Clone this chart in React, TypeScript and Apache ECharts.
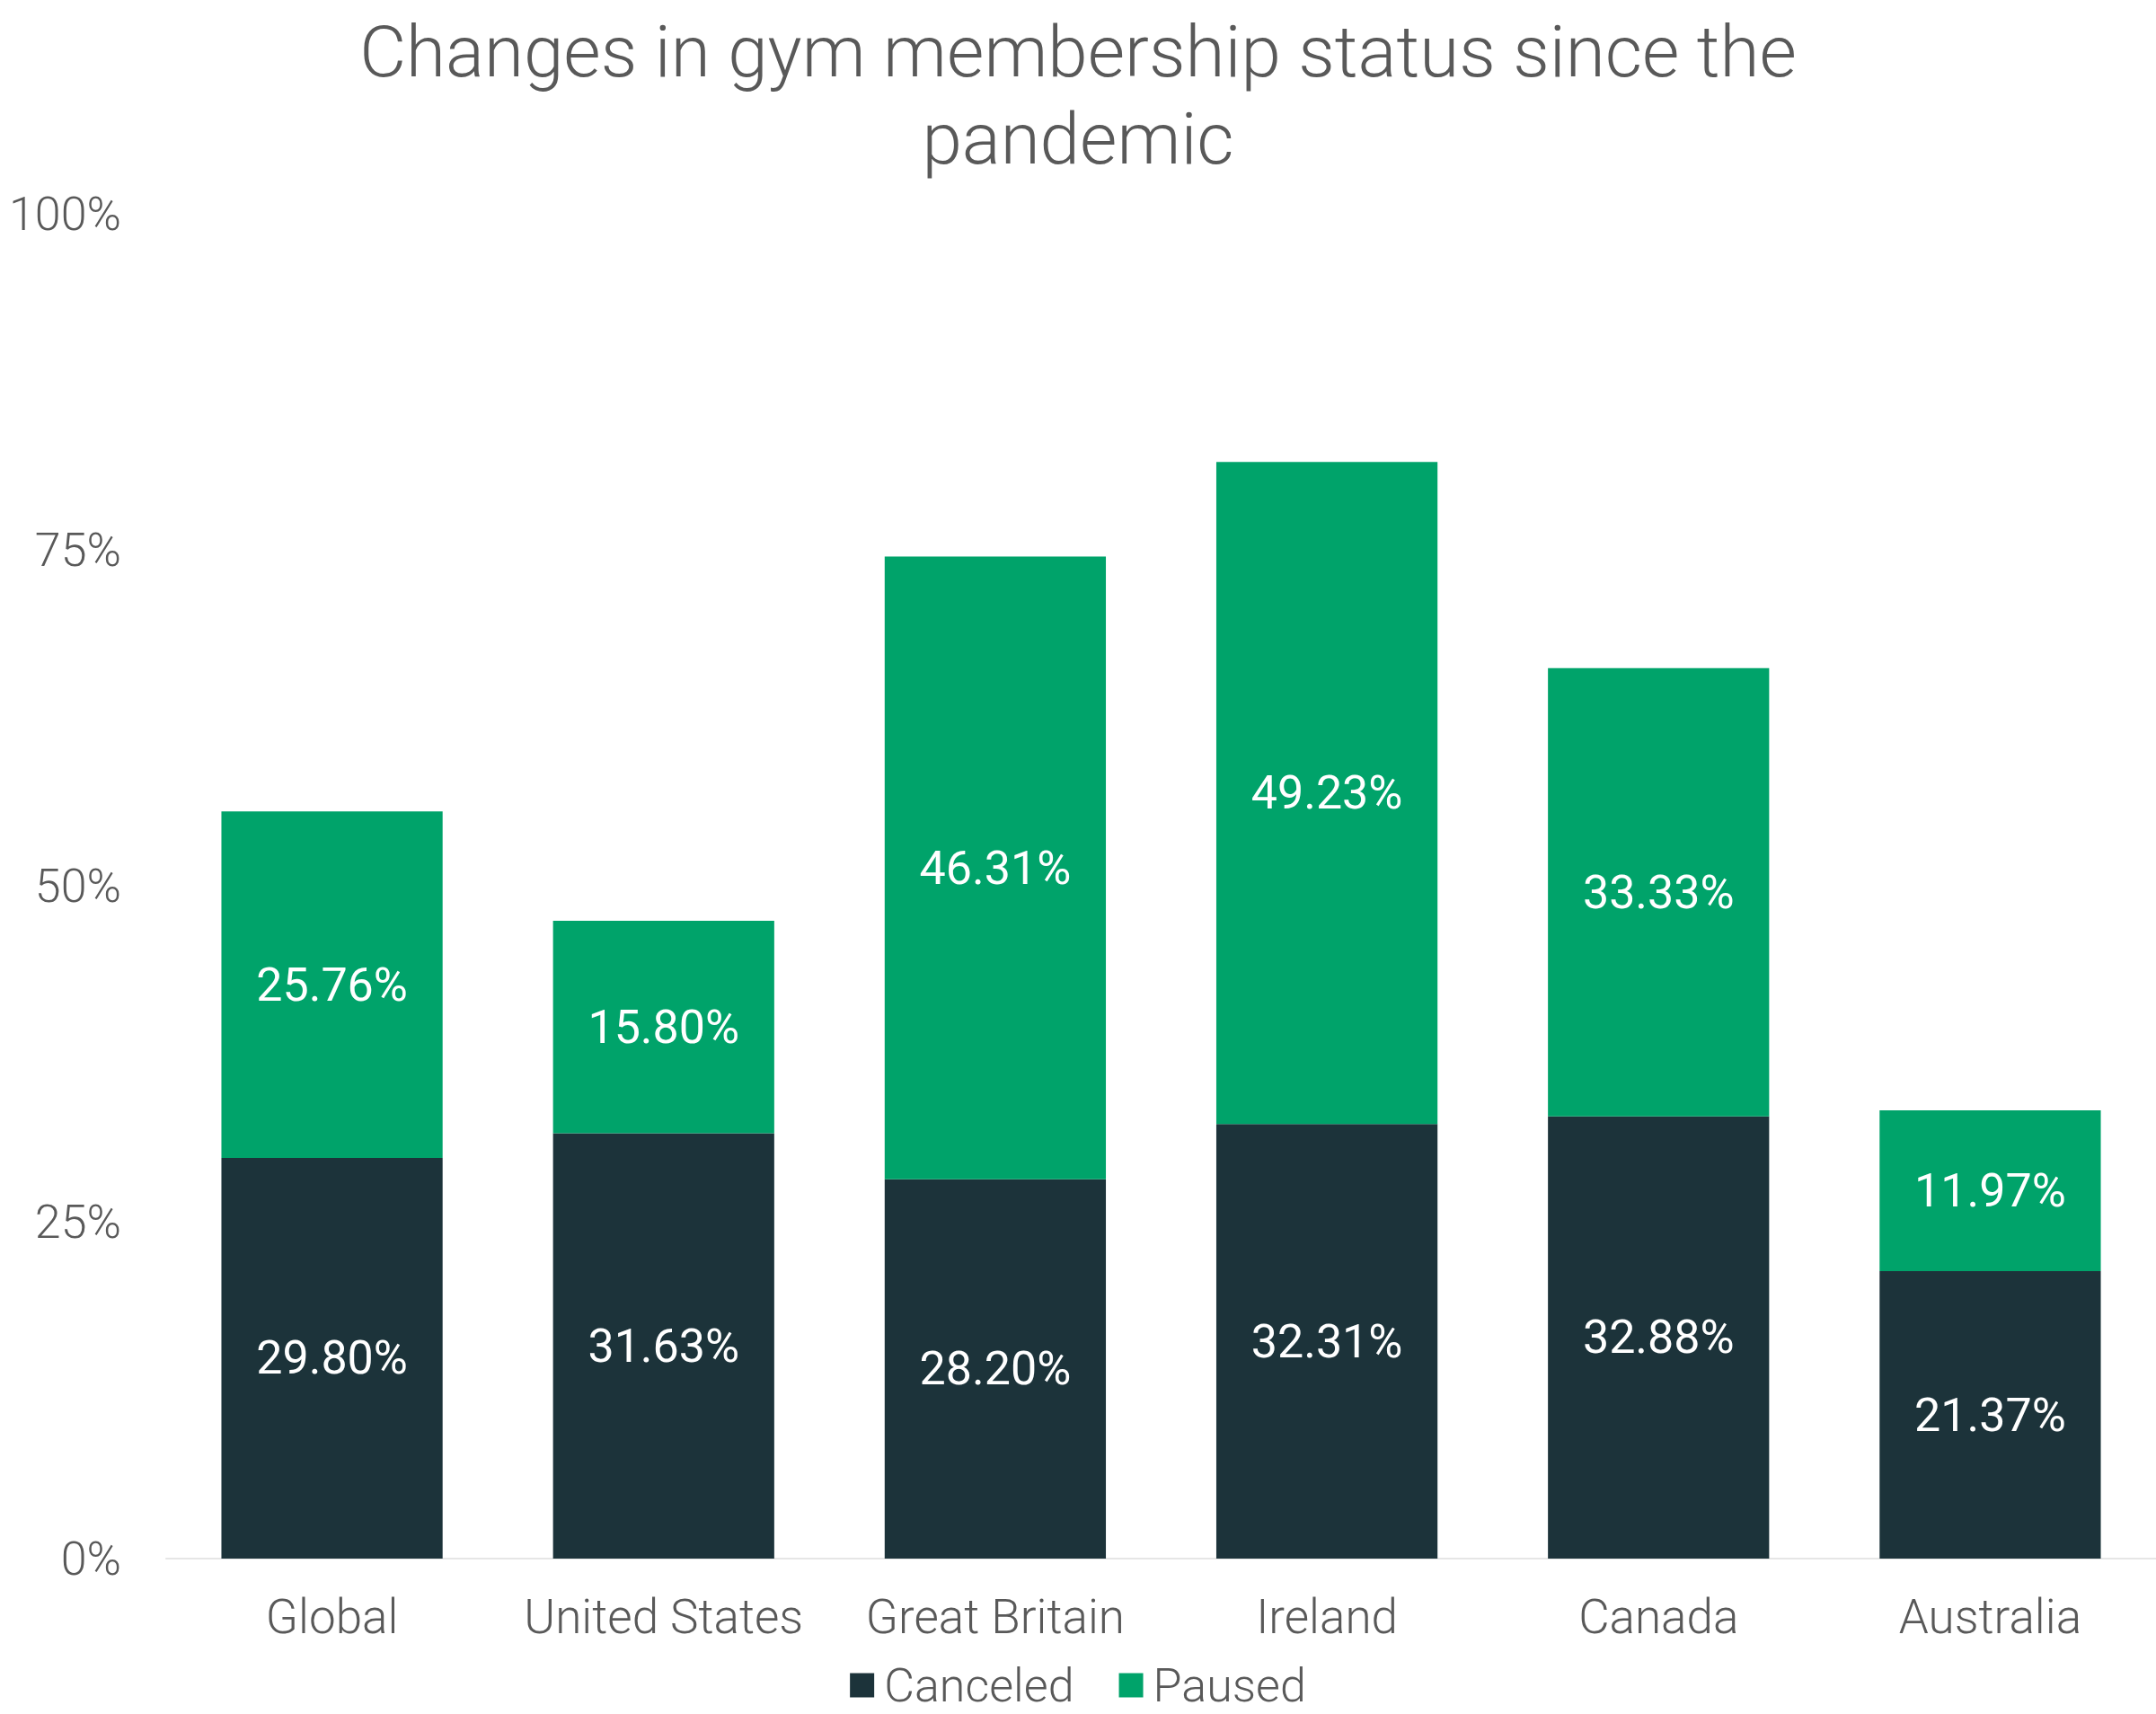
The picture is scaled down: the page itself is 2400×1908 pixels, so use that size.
import React, { useEffect, useRef } from "react";
import * as echarts from "echarts";

const categories = ["Global", "United States", "Great Britain", "Ireland", "Canada", "Australia"];
const canceled = [29.8, 31.63, 28.2, 32.31, 32.88, 21.37];
const paused = [25.76, 15.8, 46.31, 49.23, 33.33, 11.97];
const yTicks = { min: 0, max: 100, interval: 25 };

const LIGHT = "'Roboto Light', Roboto, sans-serif";

export default function App() {
  const ref = useRef<HTMLDivElement>(null);
  useEffect(() => {
    document.body.style.margin = "0";
    const chart = echarts.init(ref.current!, null, { renderer: "svg" });
    const labelStyle = {
      show: true,
      position: "inside",
      color: "#ffffff",
      fontFamily: "Roboto",
      fontSize: 52,
      formatter: (p: any) => p.value.toFixed(2) + "%",
    };
    chart.setOption({
      animation: false,
      backgroundColor: "#ffffff",
      title: {
        text: "Changes in gym membership status since the\npandemic",
        left: "center",
        top: 4,
        textStyle: {
          fontFamily: LIGHT,
          fontWeight: 300,
          fontSize: 80,
          lineHeight: 97,
          color: "#595959",
        },
      },
      legend: {
        data: ["Canceled", "Paused"],
        left: "center",
        top: 1845,
        itemWidth: 27,
        itemHeight: 27,
        itemGap: 50,
        icon: "rect",
        textStyle: {
          fontFamily: LIGHT,
          fontWeight: 300,
          fontSize: 52,
          color: "#595959",
          padding: [0, 0, 0, 6],
        },
      },
      grid: { left: 185, right: 0, top: 238, bottom: 173 },
      xAxis: {
        type: "category",
        data: categories,
        axisLine: { lineStyle: { color: "#e6e6e6", width: 2 } },
        axisTick: { show: false },
        axisLabel: {
          interval: 0,
          margin: 38,
          fontFamily: LIGHT,
          fontWeight: 300,
          fontSize: 53,
          color: "#595959",
        },
      },
      yAxis: {
        type: "value",
        min: yTicks.min,
        max: yTicks.max,
        interval: yTicks.interval,
        splitLine: { show: false },
        axisLine: { show: false },
        axisTick: { show: false },
        axisLabel: {
          margin: 50,
          formatter: "{value}%",
          fontFamily: LIGHT,
          fontWeight: 300,
          fontSize: 52,
          color: "#595959",
        },
      },
      series: [
        {
          name: "Canceled",
          type: "bar",
          stack: "total",
          data: canceled,
          barCategoryGap: "33.3%",
          itemStyle: { color: "#1c333a" },
          label: labelStyle,
        },
        {
          name: "Paused",
          type: "bar",
          stack: "total",
          data: paused,
          barCategoryGap: "33.3%",
          itemStyle: { color: "#00a36a" },
          label: labelStyle,
        },
      ],
    });
    return () => chart.dispose();
  }, []);
  return <div ref={ref} style={{ width: 2400, height: 1908 }} />;
}
